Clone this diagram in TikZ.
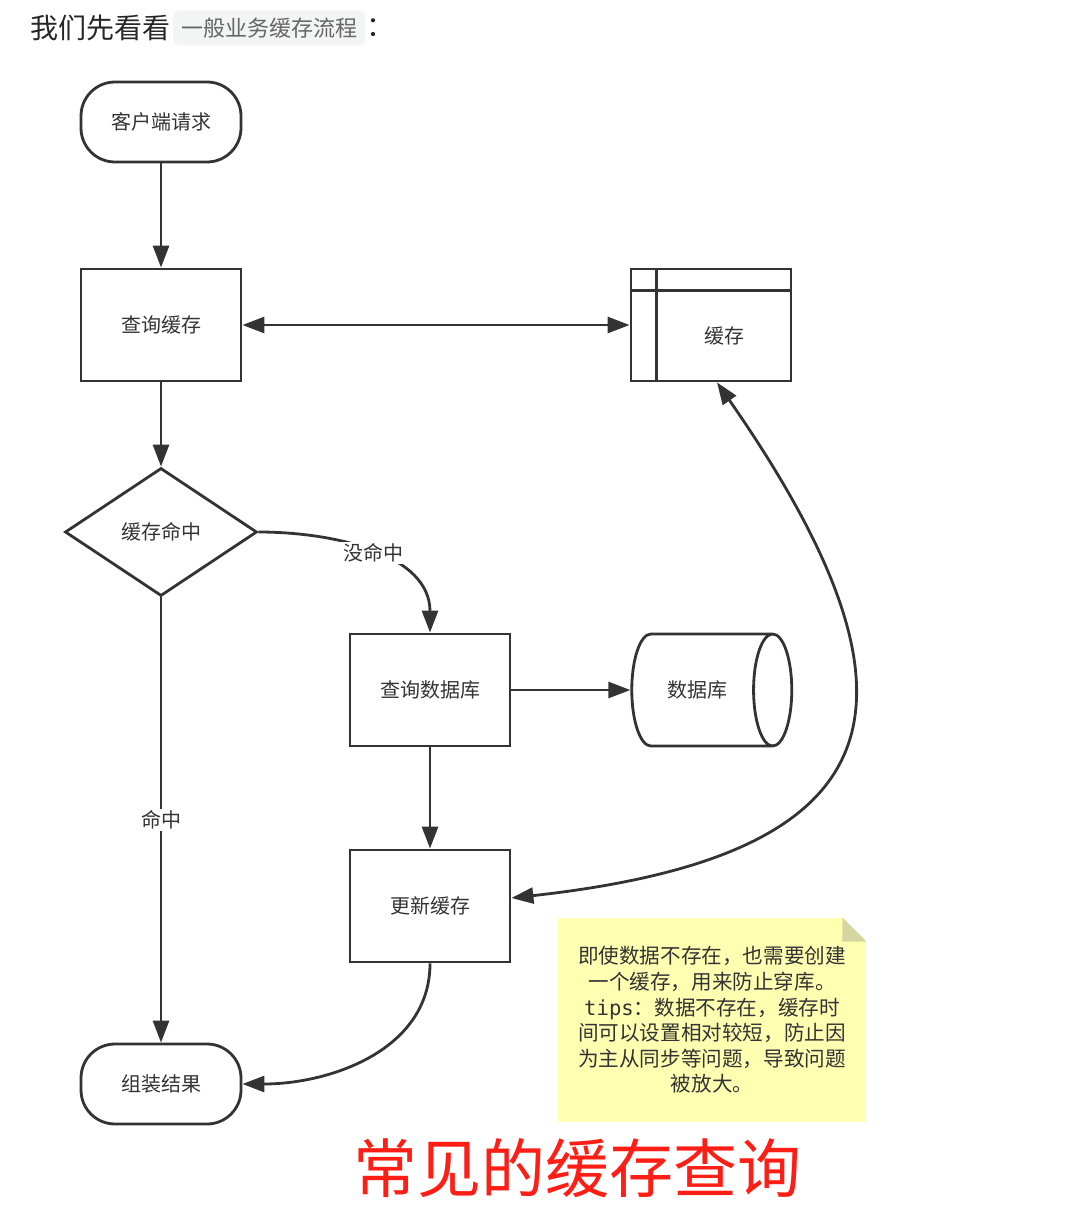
\documentclass[tikz,border=0pt]{standalone}
\usepackage{fontspec}
\setmainfont{Noto Sans CJK SC}
\newfontfamily\monofont{DejaVu Sans Mono}
\usetikzlibrary{arrows.meta, positioning, shapes.geometric}

\definecolor{ink}{RGB}{51,51,51}
\definecolor{notebg}{RGB}{255,255,178}
\definecolor{notefold}{RGB}{214,214,160}
\definecolor{codebg}{RGB}{243,244,244}
\definecolor{titlered}{RGB}{255,30,22}

\tikzset{
  box/.style={draw=ink, line width=1.4pt, minimum width=80pt, minimum height=56pt,
    text=ink, font=\fontsize{10}{12}\selectfont},
  term/.style={box, rounded corners=17pt, minimum height=40pt},
  decision/.style={diamond, draw=ink, line width=1.4pt, minimum width=96pt,
    minimum height=64pt, inner sep=0pt, text=ink, font=\fontsize{10}{12}\selectfont},
  store/.style={cylinder, shape border rotate=0, draw=ink, line width=1.4pt,
    minimum width=56pt, minimum height=80pt, shape aspect=1.2,
    text=ink, font=\fontsize{10}{12}\selectfont},
  tip/.tip={Triangle[length=11pt,width=8pt]},
  flow/.style={draw=ink, line width=1.4pt, -tip},
  both/.style={draw=ink, line width=1.4pt, tip-tip},
  lbl/.style={fill=white, text=ink, inner sep=1pt, font=\fontsize{10}{12}\selectfont},
}

\begin{document}
\begin{tikzpicture}[x=0.5pt, y=0.5pt]
  \useasboundingbox (0,0) rectangle (1080,-1219);

  % heading line
  \node[anchor=west, inner sep=0pt, text=black!85, font=\fontsize{14}{16}\selectfont] (intro) at (30,-28) {我们先看看};
  \node[right=1pt of intro, fill=codebg, rounded corners=3pt, inner xsep=4pt, inner ysep=0pt,
    minimum height=17.5pt, text=black!60, font=\fontsize{11}{13}\selectfont] (code) {一般业务缓存流程};
  \node[right=0pt of code, inner sep=0pt, text=black!85, font=\fontsize{14}{16}\selectfont] (colon) {：};

  % flow nodes
  \node[term] (req) at (161,-122) {客户端请求};
  \node[box] (qcache) at (161,-325) {查询缓存};
  \node[box] (cache) at (711,-325) {};
  \draw[ink, line width=1.4pt] ([yshift=-11.5pt]cache.north west) -- ([yshift=-11.5pt]cache.north east);
  \draw[ink, line width=1.4pt] ([xshift=13.5pt]cache.north west) -- ([xshift=13.5pt]cache.south west);
  \node[text=ink, font=\fontsize{10}{12}\selectfont] (cachetxt) at (724,-336) {缓存};
  \node[decision] (hit) at (161,-532) {缓存命中};
  \node[box] (qdb) at (430,-690) {查询数据库};
  \node[store] (db) at (697,-690) {数据库};
  \node[box] (upd) at (430,-906) {更新缓存};
  \node[term] (result) at (161,-1084) {组装结果};

  % note
  \node[fill=notebg, minimum width=154pt, minimum height=102pt, align=center, text=ink,
    font=\fontsize{10.3}{12.8}\selectfont] (note) at (712,-1020)
    {即使数据不存在，也需要创建\\一个缓存，用来防止穿库。\\{\monofont tips}：数据不存在，缓存时\\间可以设置相对较短，防止因\\为主从同步等问题，导致问题\\被放大。};
  \fill[white] ([xshift=-12pt]note.north east) -- (note.north east) -- ([yshift=-12pt]note.north east) -- cycle;
  \fill[notefold] ([xshift=-12pt]note.north east) -- ([xshift=-12pt,yshift=-12pt]note.north east)
    -- ([yshift=-12pt]note.north east) -- cycle;

  % connectors
  \draw[flow] (req) -- (qcache);
  \draw[both] (qcache) -- (cache);
  \draw[flow] (qcache) -- (hit);
  \draw[flow] (hit.east) to[out=0, in=90] node[lbl] (miss) {没命中} (qdb.north);
  \draw[flow] (hit) -- node[lbl] (hitlbl) {命中} (result);
  \draw[flow] (qdb) -- (db);
  \draw[flow] (qdb) -- (upd);
  \draw[both] ([xshift=3pt]cache.south) .. controls +(228,-328) and +(380,42) .. ([yshift=4pt]upd.east);
  \draw[flow] (upd.south) to[out=-90, in=0] (result.east);

  % caption
  \node[text=titlered, font=\fontsize{32}{36}\selectfont] (title) at (577,-1168) {常见的缓存查询};
\end{tikzpicture}
\end{document}
